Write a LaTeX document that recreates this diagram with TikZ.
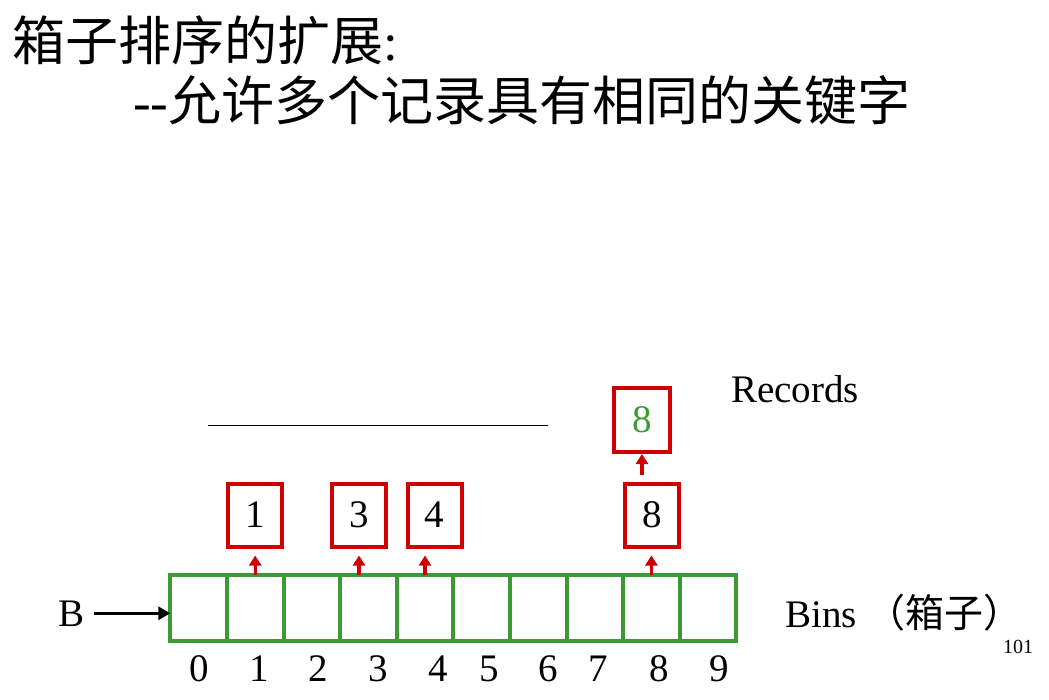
\documentclass[tikz,border=0pt]{standalone}
\usepackage{fontspec}
\setmainfont{Liberation Serif}
\newfontfamily\cjk{Noto Sans CJK SC}
\usetikzlibrary{arrows.meta,calc}
\definecolor{bingreen}{RGB}{58,155,52}
\definecolor{recred}{RGB}{208,0,0}

\begin{document}
\begin{tikzpicture}[
    x=1pt, y=-1pt,
    big/.style={font=\fontsize{53}{60}\selectfont, inner sep=0, anchor=base west},
    txt/.style={font=\fontsize{39}{46}\selectfont, inner sep=0},
    bin/.style={draw=bingreen, line width=4pt, minimum width=56.6pt, minimum height=66pt, outer sep=0},
    rec/.style={draw=recred, line width=4pt, minimum width=54pt, minimum height=63pt, outer sep=0, txt},
    arrow/.style={-{Triangle[width=13pt,length=12pt]}, line width=3pt},
    redarrow/.style={-{Triangle[width=12pt,length=10pt]}, line width=3.3pt, recred}
]
    \useasboundingbox (0,0) rectangle (1049,700);

    % Title
    \node[big] (title) at (12,61) {{\cjk 箱子排序的扩展}:};
    \node[big] (sub) at (133,121) {-{}-{\cjk 允许多个记录具有相同的关键字}};

    % Place bins
    \foreach \i in {0,...,9}
        \node[bin] (bin\i) at (198.6+56.6*\i, 608) {};
    \foreach \i/\x in {0/199,1/259,2/318,3/378,4/438,5/489,6/548,7/598,8/659,9/719}
        \node[txt, anchor=base] (idx\i) at (\x,681) {\i};

    % Place records
    \node[rec] (rec1) at (255,515) {1};
    \node[rec] (rec3) at (359,515) {3};
    \node[rec] (rec4) at (434.5,515) {4};
    \node[rec] (rec8) at (652,515) {8};
    \node[rec, text=bingreen, minimum width=56pt, minimum height=64pt] (rec8b) at (642,420) {8};

    % Labels
    \node[txt, anchor=base] (B) at (72,626) {B};
    \node[txt, anchor=base west] (records) at (731,402) {Records};
    \node[txt, anchor=base west] (binslabel) at (785,627) {Bins {\cjk （箱子）}};
    \node[font=\fontsize{20}{24}\selectfont, inner sep=0, anchor=base west] (pageno) at (1003,653) {101};

    \coordinate (ul1) at (208,425);
    \coordinate (ul2) at (548,425);
    \draw[line width=1pt] (ul1) -- (ul2);

    % Add connections
    \draw[arrow, shorten <=9pt] (B.east) -- (B.east -| bin0.west);
    \draw[redarrow] (bin1.north) -- ($(bin1.north |- rec1.south)+(0,9)$);
    \draw[redarrow] (bin3.north -| rec3.south) -- ($(rec3.south)+(0,9)$);
    \draw[redarrow] (bin4.north) -- ($(bin4.north |- rec4.south)+(0,9)$);
    \draw[redarrow] (bin8.north) -- ($(bin8.north |- rec8.south)+(0,9)$);
    \draw[redarrow] ($(rec8b.south |- rec8.north)+(0,-9)$) -- ($(rec8b.south)+(0,2)$);
\end{tikzpicture}
\end{document}
